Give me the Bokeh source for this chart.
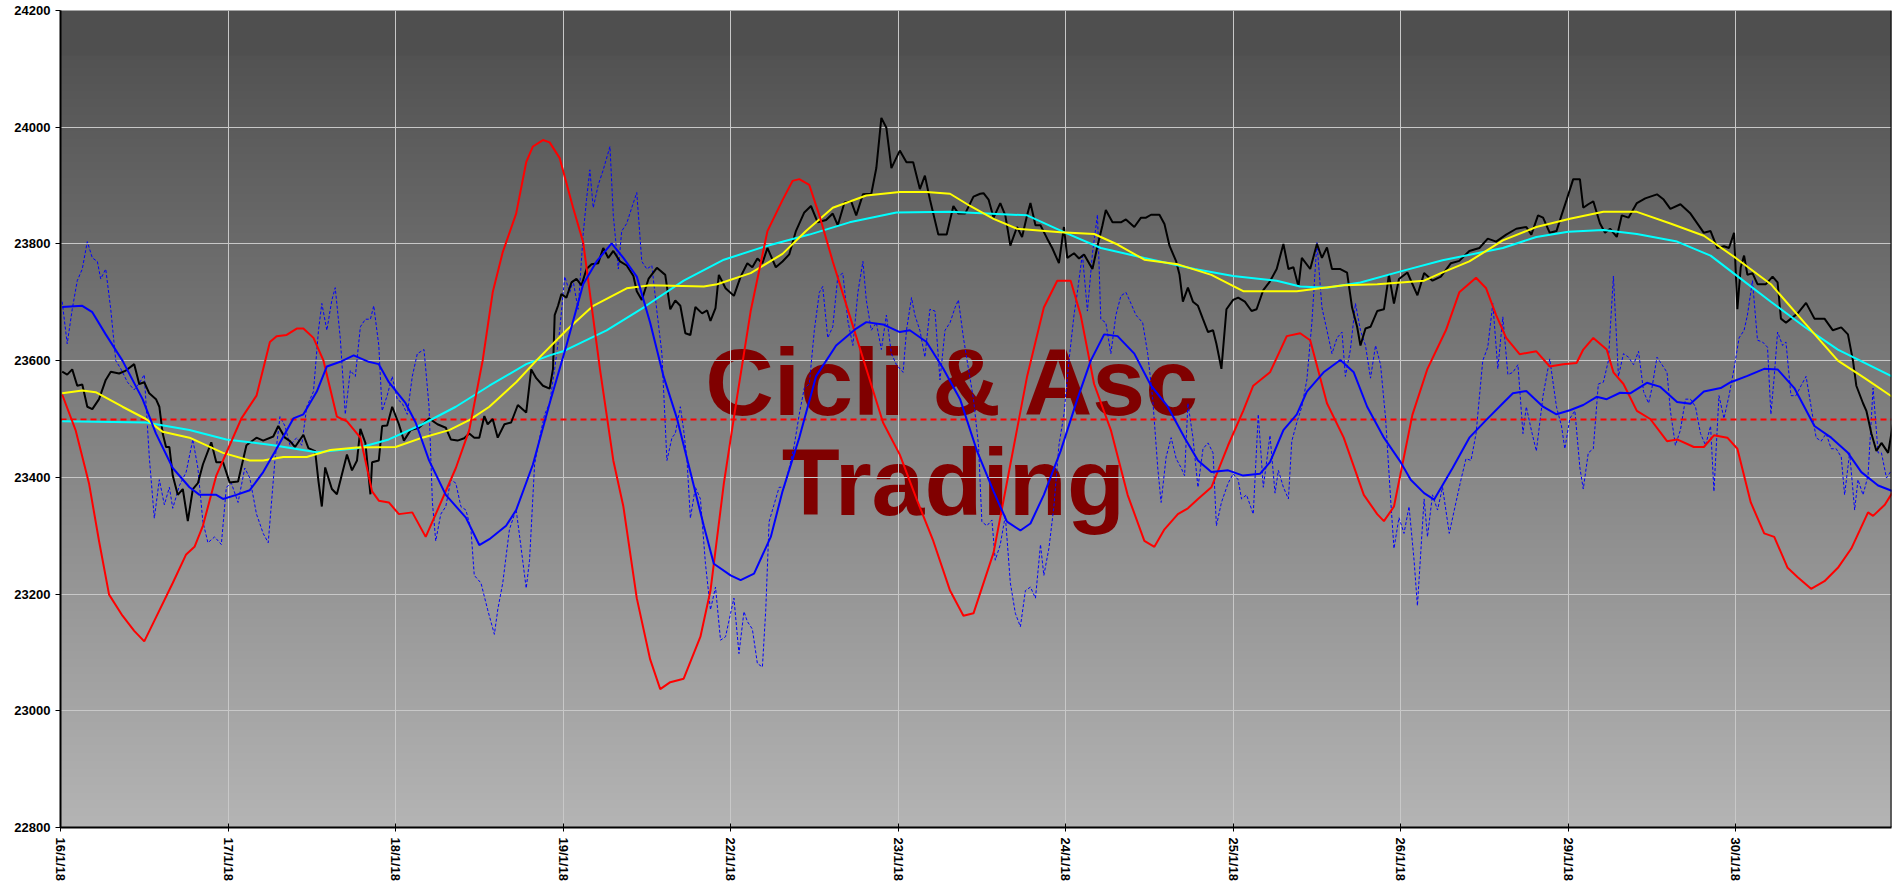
import numpy as np
from bokeh.plotting import figure
from bokeh.models import Range1d, FixedTicker, Span
from bokeh.core.properties import value
from bokeh.embed import file_html
from bokeh.resources import INLINE

# ---------------- data ----------------
dates = ["16/1/18", "17/1/18", "18/1/18", "19/1/18", "22/1/18", "23/1/18",
         "24/1/18", "25/1/18", "26/1/18", "29/1/18", "30/1/18"]
y_ticks = [22800, 23000, 23200, 23400, 23600, 23800, 24000, 24200]
ref_level = 23500
watermark = ["Cicli & Asc", "Trading"]

price_x = [0.01, 0.04, 0.07, 0.10, 0.13, 0.16, 0.19, 0.23, 0.27, 0.30, 0.35, 0.39, 0.44, 0.47, 0.50, 0.53, 0.57, 0.59, 0.61, 0.63,
           0.65, 0.67, 0.70, 0.73, 0.76, 0.79, 0.82, 0.85, 0.90, 0.93, 0.97, 1.01, 1.06, 1.11, 1.17, 1.21, 1.27, 1.30, 1.34, 1.37,
           1.40, 1.45, 1.48, 1.52, 1.54, 1.56, 1.58, 1.62, 1.65, 1.71, 1.74, 1.77, 1.79, 1.82, 1.85, 1.86, 1.90, 1.92, 1.95, 1.98,
           2.02, 2.05, 2.09, 2.14, 2.20, 2.25, 2.30, 2.33, 2.37, 2.41, 2.44, 2.47, 2.50, 2.53, 2.55, 2.58, 2.61, 2.65, 2.69, 2.73,
           2.78, 2.81, 2.84, 2.88, 2.92, 2.94, 2.95, 2.97, 2.99, 3.02, 3.05, 3.08, 3.11, 3.14, 3.17, 3.21, 3.24, 3.27, 3.30, 3.34,
           3.38, 3.42, 3.44, 3.47, 3.51, 3.56, 3.61, 3.64, 3.67, 3.70, 3.73, 3.76, 3.79, 3.83, 3.86, 3.88, 3.91, 3.93, 3.97, 4.02,
           4.06, 4.10, 4.13, 4.16, 4.19, 4.22, 4.27, 4.31, 4.35, 4.39, 4.44, 4.48, 4.52, 4.57, 4.61, 4.64, 4.68, 4.72, 4.75, 4.79,
           4.84, 4.87, 4.90, 4.93, 4.96, 5.01, 5.05, 5.09, 5.13, 5.16, 5.19, 5.24, 5.29, 5.33, 5.36, 5.40, 5.45, 5.49,
           5.51, 5.54, 5.57, 5.61, 5.64, 5.67, 5.71, 5.74, 5.77, 5.79, 5.82, 5.85, 5.89, 5.92, 5.96, 5.99, 6.01, 6.05, 6.08, 6.11,
           6.16, 6.19, 6.22, 6.24, 6.28, 6.33, 6.36, 6.41, 6.45, 6.48, 6.51, 6.56, 6.59, 6.62, 6.66, 6.68, 6.70, 6.73, 6.76, 6.79,
           6.82, 6.85, 6.88, 6.90, 6.93, 6.96, 7.00, 7.03, 7.07, 7.11, 7.14, 7.18, 7.22, 7.26, 7.30, 7.33, 7.36, 7.39, 7.41, 7.46,
           7.50, 7.53, 7.56, 7.59, 7.64, 7.68, 7.71, 7.74, 7.76, 7.79, 7.82, 7.86, 7.90, 7.93, 7.96, 7.99, 8.04, 8.10, 8.14, 8.19,
           8.24, 8.30, 8.35, 8.41, 8.47, 8.52, 8.57, 8.63, 8.69, 8.75, 8.78, 8.82, 8.85, 8.89, 8.93, 8.96, 8.99, 9.03, 9.07, 9.09,
           9.12, 9.15, 9.19, 9.22, 9.25, 9.29, 9.32, 9.36, 9.41, 9.46, 9.53, 9.57, 9.61, 9.67, 9.73, 9.81, 9.85, 9.89, 9.93, 9.96,
           9.99, 10.01, 10.03, 10.05, 10.07, 10.10, 10.13, 10.18, 10.22, 10.25, 10.27, 10.30, 10.33, 10.37, 10.42, 10.47, 10.53,
           10.58, 10.63, 10.67, 10.70, 10.72, 10.76, 10.78, 10.81, 10.84, 10.87, 10.91, 10.94]
price_y = [23581, 23576, 23585, 23557, 23559, 23521, 23517, 23534, 23567, 23581, 23578, 23583, 23594, 23560, 23563, 23544, 23534, 23521, 23475, 23452,
           23452, 23403, 23370, 23380, 23325, 23380, 23390, 23422, 23460, 23426, 23426, 23391, 23393, 23455, 23468, 23463, 23470, 23488, 23468, 23462,
           23452, 23473, 23450, 23445, 23393, 23350, 23417, 23380, 23371, 23439, 23412, 23429, 23483, 23459, 23371, 23426, 23429, 23488, 23489, 23521,
           23491, 23463, 23481, 23485, 23501, 23491, 23485, 23465, 23463, 23467, 23475, 23468, 23468, 23505, 23491, 23500, 23468, 23491, 23494, 23524,
           23511, 23585, 23570, 23557, 23552, 23586, 23678, 23694, 23714, 23708, 23734, 23740, 23729, 23757, 23765, 23767, 23793, 23776, 23788, 23770,
           23763, 23745, 23719, 23704, 23740, 23759, 23747, 23688, 23703, 23694, 23647, 23644, 23692, 23681, 23686, 23668, 23690, 23747, 23724, 23711,
           23744, 23767, 23760, 23775, 23767, 23793, 23760, 23770, 23782, 23822, 23854, 23865, 23837, 23841, 23852, 23832, 23871, 23873, 23849, 23885,
           23886, 23930, 24016, 23999, 23930, 23960, 23940, 23940, 23894, 23917, 23876, 23816, 23816, 23865, 23852, 23852, 23881, 23886,
           23887, 23876, 23845, 23870, 23849, 23797, 23829, 23812, 23849, 23870, 23832, 23832, 23809, 23793, 23767, 23829, 23776, 23784, 23775, 23782,
           23757, 23796, 23832, 23858, 23837, 23837, 23842, 23829, 23845, 23845, 23850, 23850, 23834, 23797, 23770, 23747, 23701, 23725, 23701, 23694,
           23671, 23649, 23652, 23629, 23586, 23688, 23704, 23708, 23701, 23685, 23688, 23721, 23736, 23757, 23800, 23757, 23760, 23727, 23776, 23757,
           23800, 23776, 23794, 23757, 23757, 23751, 23691, 23658, 23626, 23655, 23658, 23685, 23688, 23747, 23698, 23740, 23751, 23712, 23750, 23737,
           23744, 23767, 23771, 23788, 23793, 23809, 23804, 23816, 23826, 23829, 23816, 23849, 23845, 23819, 23822, 23849, 23875, 23911, 23911, 23862,
           23868, 23873, 23835, 23819, 23826, 23812, 23849, 23845, 23870, 23878, 23885, 23876, 23860, 23868, 23852, 23819, 23822, 23793, 23796, 23793,
           23819, 23688, 23760, 23780, 23747, 23750, 23731, 23731, 23744, 23734, 23672, 23665, 23672, 23681, 23699, 23672, 23672,
           23652, 23657, 23645, 23600, 23557, 23527, 23514, 23475, 23445, 23459, 23442, 23494]

slow_x = [0.01, 0.51, 0.77, 0.99, 1.27, 1.53, 1.77, 1.96, 2.16, 2.36, 2.56, 2.78, 2.92, 3.00, 3.26, 3.48, 3.72, 3.96, 4.22, 4.47,
          4.71, 4.99, 5.31, 5.77, 6.00, 6.21, 6.47, 6.77, 7.00, 7.26, 7.40, 7.56, 7.76, 8.00, 8.25, 8.61, 8.81, 9.00, 9.21, 9.41,
          9.65, 9.85, 10.00, 10.21, 10.41, 10.61, 10.94]
slow_y = [23496, 23494, 23481, 23465, 23455, 23443, 23450, 23465, 23491, 23521, 23557, 23594, 23609, 23616, 23652, 23691, 23737, 23773, 23797, 23816,
          23837, 23854, 23855, 23849, 23819, 23793, 23776, 23757, 23745, 23737, 23727, 23725, 23734, 23753, 23772, 23793, 23812, 23821, 23824, 23817,
          23804, 23780, 23747, 23701, 23658, 23619, 23572]

fast_x = [0.01, 0.13, 0.21, 0.37, 0.51, 0.61, 0.77, 0.97, 1.13, 1.21, 1.33, 1.47, 1.61, 1.77, 2.00, 2.16, 2.32, 2.44, 2.56, 2.72,
          2.84, 3.02, 3.18, 3.38, 3.52, 3.84, 3.92, 4.12, 4.31, 4.45, 4.61, 4.81, 5.01, 5.17, 5.31, 5.43, 5.57, 5.71, 5.97, 6.17,
          6.31, 6.47, 6.67, 6.87, 7.06, 7.38, 7.66, 7.86, 8.14, 8.24, 8.41, 8.61, 8.81, 9.01, 9.21, 9.41, 9.61, 9.81, 10.00, 10.21,
          10.41, 10.61, 10.77, 10.94]
fast_y = [23544, 23549, 23546, 23521, 23500, 23478, 23468, 23442, 23429, 23429, 23435, 23435, 23447, 23451, 23452, 23468, 23481, 23498, 23521, 23563,
          23600, 23652, 23694, 23724, 23729, 23727, 23731, 23750, 23783, 23822, 23862, 23883, 23889, 23889, 23886, 23865, 23843, 23826, 23820, 23817,
          23799, 23773, 23765, 23747, 23719, 23719, 23729, 23731, 23737, 23750, 23770, 23806, 23829, 23843, 23855, 23855, 23835, 23814, 23776, 23731,
          23665, 23600, 23570, 23537]

osc_x = [0.01, 0.09, 0.17, 0.23, 0.29, 0.37, 0.44, 0.50, 0.57, 0.67, 0.75, 0.80, 0.85, 0.93, 1.01, 1.08, 1.17, 1.25, 1.29, 1.35,
         1.41, 1.45, 1.51, 1.57, 1.65, 1.71, 1.79, 1.86, 1.90, 1.96, 2.02, 2.10, 2.18, 2.24, 2.36, 2.44, 2.52, 2.58, 2.64, 2.72,
         2.78, 2.82, 2.88, 2.92, 2.98, 3.06, 3.12, 3.22, 3.30, 3.36, 3.44, 3.52, 3.58, 3.64, 3.72, 3.82, 3.88, 3.96, 4.04, 4.12,
         4.22, 4.31, 4.37, 4.41, 4.47, 4.53, 4.61, 4.71, 4.81, 4.91, 5.01, 5.11, 5.21, 5.31, 5.39, 5.45, 5.57, 5.67, 5.77, 5.87,
         5.95, 6.03, 6.09, 6.17, 6.27, 6.37, 6.47, 6.53, 6.59, 6.67, 6.73, 6.79, 6.87, 6.97, 7.06, 7.12, 7.22, 7.32, 7.40, 7.46,
         7.56, 7.66, 7.78, 7.86, 7.90, 7.96, 8.07, 8.16, 8.27, 8.35, 8.45, 8.51, 8.57, 8.63, 8.71, 8.81, 8.89, 8.97, 9.05, 9.09,
         9.15, 9.23, 9.27, 9.33, 9.41, 9.49, 9.59, 9.65, 9.75, 9.81, 9.87, 9.95, 10.01, 10.09, 10.17, 10.23, 10.31, 10.37, 10.45, 10.53,
         10.61, 10.69, 10.79, 10.82, 10.89, 10.94]
osc_y = [23542, 23481, 23390, 23291, 23199, 23163, 23137, 23119, 23160, 23219, 23268, 23281, 23317, 23403, 23455, 23501, 23540, 23632, 23642, 23644,
         23655, 23655, 23639, 23600, 23504, 23496, 23468, 23376, 23360, 23357, 23337, 23340, 23298, 23337, 23416, 23481, 23600, 23717, 23786, 23852,
         23940, 23967, 23978, 23974, 23947, 23862, 23803, 23586, 23429, 23350, 23193, 23088, 23037, 23049, 23055, 23127, 23206, 23390, 23540, 23685,
         23822, 23875, 23908, 23911, 23901, 23849, 23770, 23678, 23586, 23494, 23439, 23363, 23291, 23206, 23163, 23167, 23271, 23422, 23573, 23691,
         23737, 23737, 23678, 23560, 23481, 23370, 23291, 23281, 23311, 23337, 23347, 23363, 23383, 23455, 23514, 23557, 23580, 23642, 23647, 23635,
         23527, 23468, 23370, 23337, 23325, 23350, 23507, 23586, 23652, 23717, 23742, 23724, 23678, 23639, 23611, 23616, 23590, 23594, 23596, 23619,
         23639, 23619, 23580, 23560, 23514, 23500, 23462, 23465, 23452, 23452, 23472, 23468, 23449, 23357, 23304, 23298, 23245, 23229, 23209, 23222,
         23245, 23278, 23340, 23334, 23353, 23376]

cyc_x = [0.01, 0.13, 0.19, 0.27, 0.37, 0.49, 0.57, 0.67, 0.77, 0.83, 0.93, 0.97, 1.05, 1.13, 1.21, 1.29, 1.39, 1.45, 1.53, 1.59,
         1.67, 1.75, 1.84, 1.90, 1.96, 2.06, 2.12, 2.20, 2.30, 2.42, 2.50, 2.56, 2.66, 2.72, 2.82, 2.92, 3.02, 3.12, 3.20, 3.29,
         3.36, 3.44, 3.52, 3.60, 3.68, 3.76, 3.84, 3.90, 4.00, 4.06, 4.14, 4.24, 4.31, 4.41, 4.51, 4.63, 4.75, 4.81, 4.91, 5.01,
         5.07, 5.17, 5.27, 5.37, 5.47, 5.57, 5.65, 5.73, 5.79, 5.87, 5.97, 6.07, 6.15, 6.23, 6.31, 6.41, 6.51, 6.61, 6.71, 6.79,
         6.87, 6.97, 7.06, 7.16, 7.22, 7.30, 7.38, 7.44, 7.54, 7.64, 7.72, 7.80, 7.90, 8.00, 8.06, 8.14, 8.20, 8.31, 8.41, 8.51,
         8.61, 8.67, 8.75, 8.85, 8.93, 9.01, 9.09, 9.17, 9.23, 9.31, 9.37, 9.47, 9.55, 9.65, 9.73, 9.81, 9.91, 9.97, 10.07, 10.17,
         10.25, 10.35, 10.47, 10.57, 10.67, 10.75, 10.85, 10.94]
cyc_y = [23692, 23694, 23683, 23645, 23600, 23534, 23475, 23416, 23383, 23370, 23370, 23363, 23370, 23378, 23409, 23449, 23501, 23508, 23547, 23590,
         23598, 23609, 23598, 23594, 23563, 23527, 23494, 23429, 23370, 23331, 23284, 23294, 23317, 23344, 23422, 23527, 23626, 23731, 23770, 23801,
         23776, 23744, 23665, 23573, 23501, 23409, 23317, 23252, 23232, 23224, 23235, 23298, 23376, 23468, 23573, 23626, 23655, 23666, 23662, 23649,
         23652, 23632, 23586, 23534, 23446, 23376, 23324, 23309, 23321, 23370, 23445, 23534, 23600, 23645, 23642, 23612, 23557, 23521, 23468, 23429,
         23409, 23412, 23403, 23406, 23426, 23481, 23508, 23547, 23580, 23601, 23580, 23521, 23468, 23426, 23396, 23373, 23362, 23416, 23468, 23498,
         23527, 23544, 23548, 23521, 23508, 23515, 23524, 23538, 23534, 23545, 23544, 23562, 23555, 23529, 23526, 23547, 23553, 23563, 23574, 23586,
         23585, 23553, 23488, 23468, 23442, 23409, 23386, 23376]

raw_x = [0.01, 0.04, 0.07, 0.10, 0.13, 0.16, 0.19, 0.22, 0.24, 0.27, 0.30, 0.33, 0.36, 0.40, 0.44, 0.47, 0.50, 0.53, 0.56, 0.59,
         0.62, 0.65, 0.67, 0.71, 0.75, 0.79, 0.82, 0.85, 0.88, 0.92, 0.96, 0.99, 1.02, 1.06, 1.10, 1.13, 1.17, 1.21, 1.24, 1.28,
         1.31, 1.34, 1.37, 1.41, 1.44, 1.47, 1.51, 1.54, 1.56, 1.59, 1.62, 1.64, 1.67, 1.70, 1.73, 1.76, 1.79, 1.82, 1.85, 1.87,
         1.90, 1.92, 1.95, 1.98, 2.01, 2.04, 2.07, 2.10, 2.13, 2.17, 2.20, 2.22, 2.24, 2.27, 2.30, 2.33, 2.36, 2.39, 2.42, 2.45,
         2.47, 2.51, 2.55, 2.59, 2.61, 2.64, 2.68, 2.72, 2.75, 2.78, 2.80, 2.83, 2.86, 2.89, 2.92, 2.95, 2.98, 3.01, 3.04, 3.06,
         3.09, 3.12, 3.14, 3.16, 3.18, 3.21, 3.24, 3.26, 3.28, 3.30, 3.33, 3.35, 3.38, 3.41, 3.44, 3.47, 3.50, 3.53, 3.56, 3.59,
         3.62, 3.65, 3.67, 3.70, 3.72, 3.74, 3.76, 3.79, 3.82, 3.85, 3.88, 3.91, 3.94, 3.97, 4.00, 4.02, 4.05, 4.08, 4.10, 4.13,
         4.16, 4.19, 4.21, 4.23, 4.25, 4.29, 4.32, 4.35, 4.38, 4.41, 4.44, 4.47, 4.50, 4.53, 4.55, 4.58, 4.61, 4.64, 4.67, 4.70,
         4.73, 4.76, 4.79, 4.81, 4.84, 4.87, 4.90, 4.93, 4.96, 4.99, 5.03, 5.05, 5.08, 5.10, 5.13, 5.16, 5.19, 5.22, 5.25, 5.28,
         5.31, 5.34, 5.36, 5.39, 5.42, 5.45, 5.48, 5.50, 5.53, 5.56, 5.58, 5.61, 5.64, 5.67, 5.70, 5.73, 5.76, 5.79, 5.82, 5.85,
         5.87, 5.90, 5.93, 5.96, 5.99, 6.02, 6.05, 6.07, 6.10, 6.13, 6.16, 6.19, 6.21, 6.24, 6.27, 6.30, 6.33, 6.36, 6.39, 6.42,
         6.46, 6.49, 6.52, 6.55, 6.57, 6.60, 6.63, 6.66, 6.69, 6.71, 6.73, 6.76, 6.79, 6.82, 6.85, 6.88, 6.90, 6.93, 6.97, 7.00,
         7.03, 7.05, 7.08, 7.12, 7.15, 7.18, 7.22, 7.25, 7.27, 7.30, 7.33, 7.35, 7.38, 7.41, 7.44, 7.47, 7.50, 7.53, 7.56, 7.59,
         7.62, 7.65, 7.67, 7.70, 7.73, 7.76, 7.79, 7.82, 7.85, 7.88, 7.91, 7.94, 7.96, 7.99, 8.02, 8.05, 8.08, 8.10, 8.14, 8.16,
         8.19, 8.22, 8.25, 8.29, 8.33, 8.36, 8.39, 8.42, 8.45, 8.49, 8.52, 8.55, 8.58, 8.61, 8.64, 8.67, 8.70, 8.73, 8.75, 8.78,
         8.81, 8.85, 8.89, 8.93, 8.96, 8.98, 9.01, 9.04, 9.07, 9.09, 9.12, 9.15, 9.18, 9.21, 9.24, 9.27, 9.30, 9.33, 9.36, 9.39,
         9.42, 9.45, 9.48, 9.50, 9.53, 9.56, 9.59, 9.61, 9.64, 9.67, 9.70, 9.73, 9.76, 9.79, 9.82, 9.85, 9.87, 9.90, 9.93, 9.96,
         9.99, 10.02, 10.05, 10.07, 10.10, 10.13, 10.16, 10.19, 10.21, 10.23, 10.25, 10.28, 10.30, 10.33, 10.36, 10.39, 10.42, 10.45, 10.48, 10.51,
         10.54, 10.57, 10.60, 10.63, 10.65, 10.68, 10.71, 10.73, 10.76, 10.79, 10.82, 10.85, 10.87, 10.90, 10.93]
raw_y = [23701, 23629, 23688, 23737, 23757, 23804, 23776, 23770, 23740, 23757, 23688, 23600, 23586, 23563, 23550, 23561, 23576, 23435, 23330, 23396,
         23353, 23383, 23347, 23386, 23409, 23465, 23416, 23324, 23288, 23298, 23285, 23383, 23390, 23357, 23416, 23399, 23337, 23304, 23288, 23429,
         23504, 23488, 23455, 23468, 23455, 23521, 23547, 23652, 23698, 23652, 23704, 23725, 23639, 23508, 23583, 23573, 23658, 23671, 23671, 23694,
         23626, 23514, 23540, 23573, 23534, 23527, 23508, 23573, 23612, 23619, 23521, 23357, 23291, 23337, 23350, 23396, 23390, 23350, 23344, 23311,
         23232, 23219, 23173, 23131, 23173, 23219, 23311, 23345, 23278, 23210, 23258, 23422, 23468, 23508, 23527, 23586, 23652, 23744, 23717, 23737,
         23688, 23816, 23876, 23927, 23862, 23901, 23927, 23947, 23967, 23849, 23757, 23822, 23835, 23862, 23888, 23770, 23757, 23763, 23685, 23612,
         23429, 23468, 23475, 23521, 23481, 23429, 23330, 23383, 23363, 23252, 23173, 23212, 23121, 23127, 23167, 23193, 23098, 23170, 23153, 23140,
         23081, 23075, 23173, 23324, 23344, 23383, 23383, 23416, 23455, 23508, 23553, 23560, 23652, 23717, 23727, 23639, 23658, 23744, 23750, 23668,
         23626, 23717, 23770, 23704, 23652, 23665, 23619, 23678, 23612, 23593, 23580, 23652, 23708, 23678, 23652, 23606, 23688, 23685, 23567, 23652,
         23665, 23691, 23704, 23639, 23586, 23534, 23455, 23324, 23317, 23327, 23258, 23285, 23334, 23219, 23167, 23144, 23206, 23212, 23193, 23285,
         23232, 23278, 23350, 23455, 23508, 23600, 23678, 23717, 23783, 23685, 23783, 23850, 23671, 23665, 23612, 23678, 23711, 23717, 23698, 23678,
         23665, 23612, 23534, 23416, 23357, 23435, 23468, 23432, 23416, 23403, 23527, 23468, 23383, 23449, 23459, 23442, 23317, 23357, 23390, 23406,
         23396, 23363, 23370, 23337, 23508, 23383, 23472, 23373, 23412, 23383, 23363, 23462, 23494, 23521, 23567, 23665, 23803, 23691, 23652, 23612,
         23639, 23649, 23573, 23619, 23698, 23652, 23626, 23570, 23626, 23593, 23501, 23363, 23278, 23331, 23304, 23350, 23258, 23180, 23363, 23298,
         23370, 23344, 23383, 23304, 23357, 23396, 23432, 23429, 23475, 23600, 23623, 23698, 23586, 23675, 23576, 23580, 23593, 23475, 23521, 23481,
         23445, 23540, 23603, 23521, 23488, 23449, 23501, 23514, 23416, 23380, 23442, 23449, 23560, 23563, 23600, 23745, 23573, 23612, 23606, 23593,
         23616, 23547, 23527, 23553, 23606, 23593, 23580, 23514, 23455, 23481, 23534, 23534, 23521, 23475, 23455, 23488, 23376, 23540, 23501, 23540,
         23586, 23639, 23652, 23678, 23737, 23635, 23632, 23623, 23508, 23573, 23649, 23626, 23632, 23540, 23540, 23557, 23573, 23521, 23468, 23462,
         23475, 23449, 23449, 23435, 23370, 23442, 23344, 23396, 23370, 23403, 23553, 23442, 23442, 23399, 23412]

# ---------------- figure ----------------
x_end = 10.93
y_lo, y_hi = y_ticks[0], y_ticks[-1]

p = figure(width=1896, height=884,
           x_range=Range1d(0, x_end), y_range=Range1d(y_lo, y_hi),
           output_backend="svg", toolbar_location=None,
           min_border_left=60, min_border_right=5, min_border_top=10, min_border_bottom=57)
p.background_fill_color = "#8c8c8c"
p.border_fill_color = "white"
p.outline_line_color = None

# background vertical gradient (dark top -> light bottom)
frame_h = 817
rows = []
for i in range(frame_h):
    page_y = 827 - i - 0.5
    if page_y < 55:
        g = 79
    else:
        g = 82 + (page_y - 55) / (827 - 55) * 98
    rows.append(int(round(g)))
img = np.zeros((frame_h, 1), dtype=np.uint32)
view = img.view(dtype=np.uint8).reshape((frame_h, 1, 4))
for i, g in enumerate(rows):
    view[i, 0, 0] = g
    view[i, 0, 1] = g
    view[i, 0, 2] = g
    view[i, 0, 3] = 255
p.image_rgba(image=[img], x=0, y=y_lo, dw=x_end, dh=y_hi - y_lo, level="image")

# watermark
p.text(x=[5.33, 5.33], y=[23564, 23392], text=watermark,
       text_font=value("Liberation Sans"), text_font_style="bold", text_font_size="95px",
       text_color="#800000", text_align="center", text_baseline="alphabetic", level="image")

# grid
p.xgrid.ticker = FixedTicker(ticks=list(range(len(dates))))
p.ygrid.ticker = FixedTicker(ticks=y_ticks)
for g in (p.xgrid, p.ygrid):
    g.grid_line_color = "#c8c8c8"
    g.grid_line_width = 1

# axes
p.xaxis.ticker = FixedTicker(ticks=list(range(len(dates))))
p.xaxis.major_label_overrides = {i: d for i, d in enumerate(dates)}
p.xaxis.major_label_orientation = -np.pi / 2
p.xaxis.major_tick_in = 4
p.xaxis.major_tick_out = 4
p.xaxis.major_label_standoff = 6
p.yaxis.ticker = FixedTicker(ticks=y_ticks)
p.yaxis.major_tick_in = 0
p.yaxis.major_tick_out = 5
p.yaxis.major_label_standoff = 5
for ax in (p.xaxis, p.yaxis):
    ax.axis_line_color = "black"
    ax.axis_line_width = 2
    ax.major_tick_line_color = "black"
    ax.major_tick_line_width = 1
    ax.minor_tick_line_color = None
    ax.major_label_text_font = "Liberation Sans"
    ax.major_label_text_font_style = "bold"
    ax.major_label_text_font_size = "13px"
    ax.major_label_text_color = "black"

p.add_layout(Span(location=x_end, dimension="height", line_color="black", line_width=2))

# series
p.line(raw_x, raw_y, line_color="#0000ff", line_width=1, line_dash="3 2")
p.hspan(y=[ref_level], line_color="#ff0000", line_width=2, line_dash="6 4")
p.line(price_x, price_y, line_color="black", line_width=2)
p.line(slow_x, slow_y, line_color="#00ffff", line_width=2)
p.line(fast_x, fast_y, line_color="#ffff00", line_width=2)
p.line(osc_x, osc_y, line_color="#ff0000", line_width=2)
p.line(cyc_x, cyc_y, line_color="#0000ff", line_width=2)

open("out.html", "w").write(file_html(p, INLINE))
